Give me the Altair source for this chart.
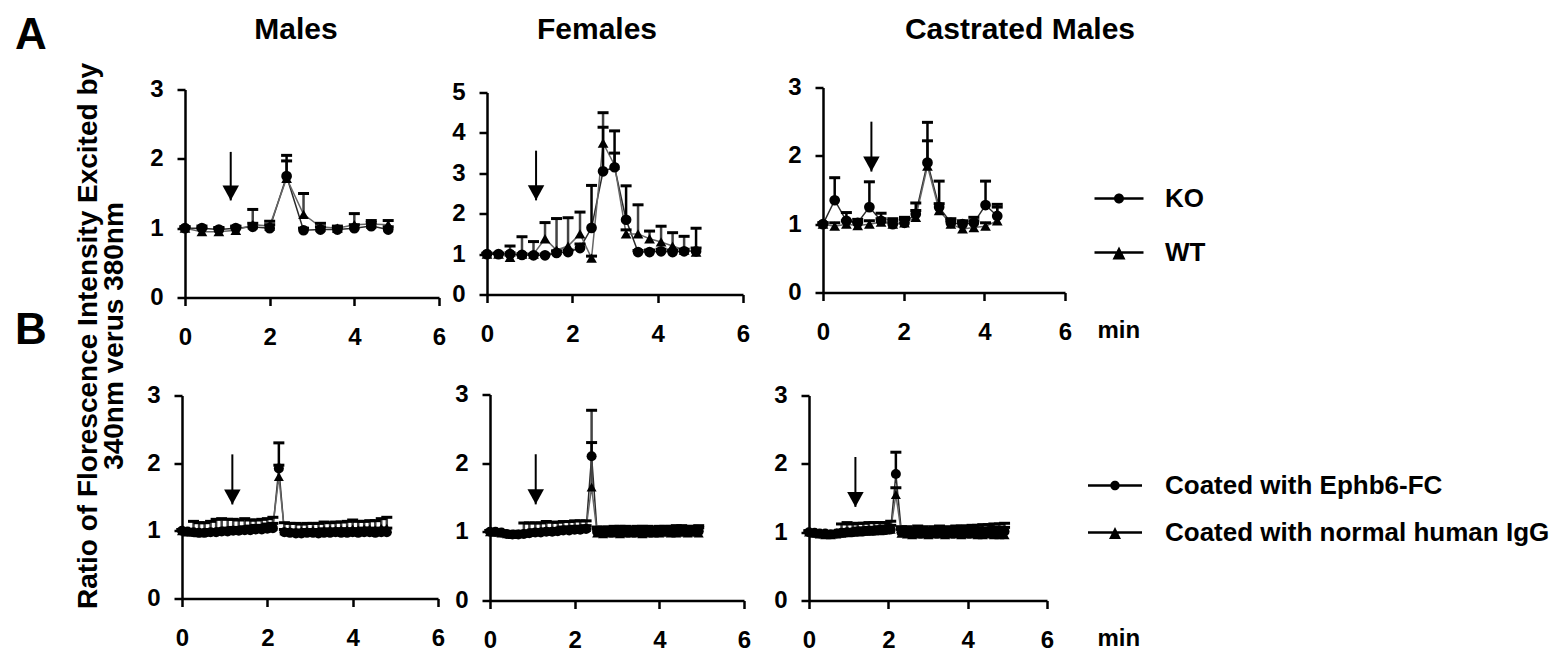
import altair as alt
import pandas as pd

FONT = "Liberation Sans"

# ---------------- Row A: KO vs WT ----------------
males_time = [0.0, 0.4, 0.8, 1.2, 1.6, 2.0, 2.4, 2.8, 3.2, 3.6, 4.0, 4.4, 4.8]
males_ko = [1.00, 1.00, 0.98, 1.00, 1.02, 1.00, 1.75, 0.97, 0.98, 0.98, 1.00, 1.03, 0.98]
males_ko_sem = [0.02, 0.03, 0.03, 0.03, 0.05, 0.05, 0.30, 0.03, 0.04, 0.03, 0.05, 0.05, 0.04]
males_wt = [1.00, 0.95, 0.95, 0.97, 1.05, 1.03, 1.72, 1.20, 1.02, 1.00, 1.05, 1.06, 1.05]
males_wt_sem = [0.02, 0.05, 0.05, 0.05, 0.22, 0.07, 0.25, 0.30, 0.05, 0.03, 0.16, 0.05, 0.06]

females_time = [0.0, 0.27, 0.54, 0.82, 1.09, 1.36, 1.63, 1.9, 2.18, 2.45,
                2.72, 2.99, 3.26, 3.54, 3.81, 4.08, 4.35, 4.62, 4.9]
females_ko = [1.00, 1.00, 1.00, 0.98, 0.97, 0.97, 1.03, 1.05, 1.15, 1.65,
              3.05, 3.15, 1.85, 1.05, 1.05, 1.07, 1.05, 1.07, 1.07]
females_ko_sem = [0.02, 0.02, 0.03, 0.03, 0.03, 0.03, 0.05, 0.05, 0.10, 1.05,
                  1.09, 0.90, 0.84, 0.04, 0.05, 0.05, 0.05, 0.05, 0.57]
females_wt = [1.00, 1.00, 0.92, 1.00, 1.00, 1.38, 1.10, 1.20, 1.50, 0.90,
              3.75, 3.20, 1.50, 1.50, 1.38, 1.30, 1.20, 1.10, 1.05]
females_wt_sem = [0.02, 0.02, 0.28, 0.43, 0.31, 0.40, 0.78, 0.70, 0.54, 0.05,
                  0.75, 0.30, 0.10, 0.72, 0.19, 0.39, 0.33, 0.34, 0.10]

castrated_time = [0.0, 0.29, 0.58, 0.86, 1.15, 1.44, 1.73, 2.02, 2.3, 2.59,
                  2.88, 3.17, 3.46, 3.74, 4.03, 4.32]
castrated_ko = [1.00, 1.35, 1.05, 1.02, 1.25, 1.05, 1.00, 1.02, 1.15, 1.90,
                1.25, 1.02, 1.00, 1.02, 1.28, 1.12]
castrated_ko_sem = [0.02, 0.33, 0.12, 0.05, 0.37, 0.11, 0.08, 0.08, 0.16, 0.59,
                    0.38, 0.06, 0.05, 0.08, 0.35, 0.17]
castrated_wt = [1.00, 0.97, 1.00, 0.98, 1.00, 1.03, 1.00, 1.02, 1.10, 1.85,
                1.20, 1.00, 0.93, 0.95, 0.97, 1.05]
castrated_wt_sem = [0.02, 0.05, 0.05, 0.05, 0.05, 0.05, 0.05, 0.05, 0.10, 0.37,
                    0.10, 0.05, 0.10, 0.10, 0.05, 0.20]

# ---------------- Row B: Ephb6-FC vs human IgG coating ----------------
b_males_time = [0.0, 0.13, 0.27, 0.4, 0.53, 0.67, 0.8, 0.93, 1.07, 1.2, 1.33, 1.47,
                1.6, 1.73, 1.87, 2.0, 2.13, 2.27, 2.4, 2.53, 2.67, 2.8, 2.93, 3.07,
                3.2, 3.33, 3.47, 3.6, 3.73, 3.87, 4.0, 4.13, 4.27, 4.4, 4.53, 4.67, 4.8]
b_males_eph = [1.00, 0.99, 0.98, 0.97, 0.97, 0.98, 0.98, 0.99, 0.99, 1.00, 1.00, 1.01,
               1.01, 1.02, 1.02, 1.03, 1.04, 1.92, 0.98, 0.97, 0.96, 0.96, 0.97, 0.97,
               0.96, 0.97, 0.97, 0.98, 0.97, 0.97, 0.98, 0.97, 0.98, 0.98, 0.97, 0.98, 0.98]
b_males_eph_sem = [0.02, 0.02, 0.03, 0.03, 0.03, 0.04, 0.04, 0.04, 0.05, 0.05, 0.05, 0.05,
                   0.06, 0.06, 0.06, 0.07, 0.07, 0.38, 0.04, 0.04, 0.05, 0.05, 0.05, 0.05,
                   0.05, 0.06, 0.05, 0.05, 0.06, 0.06, 0.05, 0.06, 0.06, 0.06, 0.06, 0.06, 0.06]
b_males_igg = [1.00, 0.98, 0.98, 0.97, 0.98, 0.99, 1.00, 1.00, 1.01, 1.02, 1.02, 1.03,
               1.03, 1.04, 1.05, 1.05, 1.07, 1.80, 1.00, 1.00, 0.99, 1.00, 1.00, 1.01,
               1.00, 1.01, 1.02, 1.01, 1.02, 1.02, 1.03, 1.02, 1.03, 1.03, 1.02, 1.04, 1.04]
b_males_igg_sem = [0.02, 0.03, 0.16, 0.15, 0.14, 0.15, 0.17, 0.18, 0.16, 0.15, 0.14, 0.15,
                   0.13, 0.12, 0.12, 0.13, 0.13, 0.17, 0.12, 0.11, 0.12, 0.10, 0.11, 0.10,
                   0.11, 0.12, 0.10, 0.12, 0.11, 0.12, 0.13, 0.12, 0.11, 0.12, 0.13, 0.14, 0.16]

b_females_time = [0.0, 0.13, 0.27, 0.4, 0.53, 0.67, 0.8, 0.93, 1.07, 1.2, 1.33, 1.47,
                  1.6, 1.73, 1.87, 2.0, 2.13, 2.27, 2.4, 2.53, 2.67, 2.8, 2.93, 3.07,
                  3.2, 3.33, 3.47, 3.6, 3.73, 3.87, 4.0, 4.13, 4.27, 4.4, 4.53, 4.67,
                  4.8, 4.93]
b_females_eph = [1.00, 1.00, 0.99, 0.97, 0.96, 0.96, 0.97, 0.98, 0.99, 0.99, 1.00, 1.00,
                 1.01, 1.02, 1.02, 1.03, 1.03, 1.04, 2.10, 1.00, 1.00, 1.01, 1.00, 1.00,
                 1.01, 1.00, 1.01, 1.00, 1.01, 1.01, 1.00, 1.01, 1.01, 1.00, 1.01, 1.01,
                 1.02, 1.01]
b_females_eph_sem = [0.02, 0.02, 0.02, 0.03, 0.03, 0.03, 0.03, 0.03, 0.04, 0.04, 0.04, 0.04,
                     0.04, 0.05, 0.05, 0.05, 0.05, 0.05, 0.20, 0.04, 0.04, 0.04, 0.05, 0.05,
                     0.04, 0.05, 0.05, 0.04, 0.05, 0.05, 0.05, 0.05, 0.05, 0.05, 0.05, 0.05,
                     0.05, 0.05]
b_females_igg = [1.00, 0.99, 0.98, 0.97, 0.96, 0.97, 0.98, 0.99, 1.00, 1.01, 1.02, 1.02,
                 1.03, 1.03, 1.04, 1.04, 1.05, 1.06, 1.65, 0.98, 0.97, 0.98, 0.98, 0.97,
                 0.98, 0.98, 0.98, 0.97, 0.98, 0.98, 0.98, 0.99, 0.98, 0.98, 0.99, 0.98,
                 0.99, 0.98]
b_females_igg_sem = [0.02, 0.02, 0.03, 0.03, 0.03, 0.04, 0.15, 0.14, 0.13, 0.12, 0.13, 0.12,
                     0.11, 0.12, 0.11, 0.12, 0.11, 0.10, 1.12, 0.09, 0.10, 0.09, 0.10, 0.11,
                     0.10, 0.09, 0.10, 0.11, 0.10, 0.09, 0.10, 0.09, 0.10, 0.11, 0.10, 0.10,
                     0.09, 0.11]

b_castrated_time = [0.0, 0.14, 0.27, 0.41, 0.55, 0.69, 0.82, 0.96, 1.1, 1.23, 1.37, 1.51,
                    1.64, 1.78, 1.92, 2.06, 2.19, 2.33, 2.47, 2.6, 2.74, 2.88, 3.01, 3.15,
                    3.29, 3.43, 3.56, 3.7, 3.84, 3.97, 4.11, 4.25, 4.38, 4.52, 4.66, 4.8, 4.93]
b_castrated_eph = [1.00, 0.99, 0.98, 0.98, 0.97, 0.98, 0.99, 1.00, 1.00, 1.01, 1.01, 1.02,
                   1.02, 1.03, 1.03, 1.04, 1.85, 1.00, 0.99, 0.99, 1.00, 0.99, 0.99, 1.00,
                   1.00, 0.99, 1.00, 1.00, 1.01, 1.00, 1.01, 1.01, 1.00, 1.01, 1.01, 1.00, 1.01]
b_castrated_eph_sem = [0.02, 0.02, 0.03, 0.03, 0.03, 0.03, 0.04, 0.04, 0.04, 0.05, 0.05, 0.05,
                       0.05, 0.05, 0.06, 0.06, 0.32, 0.04, 0.04, 0.05, 0.05, 0.05, 0.05, 0.05,
                       0.05, 0.05, 0.05, 0.05, 0.05, 0.06, 0.05, 0.05, 0.06, 0.05, 0.06, 0.06, 0.06]
b_castrated_igg = [1.00, 0.98, 0.97, 0.96, 0.96, 0.97, 0.98, 0.99, 1.00, 1.00, 1.01, 1.01,
                   1.02, 1.02, 1.03, 1.04, 1.55, 0.98, 0.97, 0.96, 0.97, 0.97, 0.96, 0.97,
                   0.97, 0.96, 0.97, 0.97, 0.96, 0.97, 0.97, 0.96, 0.96, 0.97, 0.96, 0.96, 0.96]
b_castrated_igg_sem = [0.02, 0.02, 0.03, 0.03, 0.03, 0.04, 0.14, 0.15, 0.12, 0.13, 0.12, 0.13,
                       0.12, 0.12, 0.11, 0.12, 0.10, 0.10, 0.11, 0.10, 0.12, 0.11, 0.10, 0.11,
                       0.12, 0.10, 0.11, 0.12, 0.13, 0.12, 0.13, 0.14, 0.15, 0.14, 0.16, 0.16, 0.17]

# stimulus arrows (A1, A2, A3, B1, B2, B3): time, shaft top, arrow tip
arrow_time = [1.08, 1.15, 1.20, 1.18, 1.08, 1.17]
arrow_top = [2.10, 3.56, 2.50, 2.13, 2.13, 2.10]
arrow_tip = [1.40, 2.33, 1.77, 1.39, 1.40, 1.37]

row_a_groups = ["KO", "WT"]
row_b_groups = ["Coated with Ephb6-FC", "Coated with normal human IgG"]
column_titles = ["Males", "Females", "Castrated Males"]
panel_letters = ["A", "B"]
y_title = ["Ratio of Florescence Intensity Excited by", "340nm verus 380nm"]

# symbol paths: arrow head with its tip at the origin, legend line+marker glyphs
HEAD = "M-0.55,-1L0.55,-1L0,0Z"
LEG_CIRCLE_A = "M-0.98,-0.05H0.98V0.05H-0.98ZM0.2,0A0.2,0.2,0,1,1,-0.2,0A0.2,0.2,0,1,1,0.2,0Z"
LEG_TRI_A = "M-0.98,-0.05H0.98V0.05H-0.98ZM0,-0.24L0.26,0.28L-0.26,0.28Z"
LEG_CIRCLE_B = "M-1.08,-0.05H1.08V0.05H-1.08ZM0.19,0A0.19,0.19,0,1,1,-0.19,0A0.19,0.19,0,1,1,0.19,0Z"
LEG_TRI_B = "M-1.08,-0.05H1.08V0.05H-1.08ZM0,-0.22L0.24,0.26L-0.24,0.26Z"


def long_frame(time, a, a_sem, b, b_sem, names):
    n = len(time)
    return pd.DataFrame({
        "time": list(time) * 2,
        "ratio": list(a) + list(b),
        "sem": list(a_sem) + list(b_sem),
        "group": [names[0]] * n + [names[1]] * n,
    })


def text_layer(text, x, y, size, align):
    return alt.Chart(pd.DataFrame({"label": [text]})).mark_text(
        font=FONT, fontSize=size, fontWeight="bold", color="black",
        align=align, baseline="top",
    ).encode(text="label:N", x=alt.value(x), y=alt.value(y))


def legend_layer(names, paths, lx, ly, row_pad, label_offset):
    return alt.Chart(pd.DataFrame({"entry": names})).transform_filter("false").mark_point(
        filled=True, color="black", opacity=1
    ).encode(
        shape=alt.Shape(
            "entry:N",
            scale=alt.Scale(domain=names, range=paths),
            legend=alt.Legend(
                title=None, orient="none", legendX=lx, legendY=ly,
                symbolSize=2500, symbolStrokeWidth=0, symbolFillColor="black",
                symbolOpacity=1, rowPadding=row_pad, labelOffset=label_offset,
                labelFont=FONT, labelFontSize=26, labelFontWeight="bold",
                labelColor="black", labelLimit=800, padding=0,
            ),
        )
    )


def panel(df, names, k, ymax, xrange, yrange, width, height, msize,
          y_axis_title=None, x_axis_title=None, extra=()):
    y_axis_kw = dict(values=list(range(ymax + 1)), offset=-xrange[0])
    if y_axis_title:
        y_axis_kw.update(title=y_axis_title, titleX=-89, titleY=248, titleAngle=270,
                         titleAlign="center", titleBaseline="alphabetic",
                         titleFontSize=28, titleFontWeight="bold", titleLineHeight=26)
    else:
        y_axis_kw.update(title=None)
    x_axis_kw = dict(values=[0, 2, 4, 6])
    if x_axis_title:
        x_axis_kw.update(title=x_axis_title, titleX=305, titleY=45, titleAlign="left",
                         titleBaseline="alphabetic", titleFontSize=24,
                         titleFontWeight="bold")
    else:
        x_axis_kw.update(title=None)

    xs = alt.Scale(domain=[0, 6], range=xrange, nice=False, zero=False)
    ys = alt.Scale(domain=[0, ymax], range=yrange, nice=False)

    def X(field="time"):
        return alt.X(f"{field}:Q", scale=xs, axis=alt.Axis(**x_axis_kw))

    def Y(field):
        return alt.Y(f"{field}:Q", scale=ys, axis=alt.Axis(**y_axis_kw))

    base = alt.Chart(df).transform_calculate(upper="datum.ratio + datum.sem")
    first = base.transform_filter(alt.datum.group == names[0])
    second = base.transform_filter(alt.datum.group == names[1])

    layers = [
        first.mark_line(color="#2b2b2b", strokeWidth=1.5).encode(x=X(), y=Y("ratio")),
        second.mark_line(color="#666666", strokeWidth=1.5).encode(x=X(), y=Y("ratio")),
        second.mark_rule(color="#444444", strokeWidth=2.5).encode(x=X(), y=Y("ratio"), y2="upper:Q"),
        second.mark_tick(orient="horizontal", size=11, thickness=3, color="black",
                         opacity=1).encode(x=X(), y=Y("upper")),
        first.mark_rule(color="black", strokeWidth=2.5).encode(x=X(), y=Y("ratio"), y2="upper:Q"),
        first.mark_tick(orient="horizontal", size=11, thickness=3, color="black",
                        opacity=1).encode(x=X(), y=Y("upper")),
        second.mark_point(shape="triangle-up", filled=True, size=msize, color="black",
                          opacity=1).encode(x=X(), y=Y("ratio")),
        first.mark_point(shape="circle", filled=True, size=msize, color="black",
                         opacity=1).encode(x=X(), y=Y("ratio")),
    ]

    arrow_df = pd.DataFrame({"time": [arrow_time[k]], "top": [arrow_top[k]], "tip": [arrow_tip[k]]})
    arrow = alt.Chart(arrow_df)
    layers.append(arrow.mark_rule(color="black", strokeWidth=2).encode(
        x=X(), y=Y("top"), y2="tip:Q"))
    layers.append(arrow.mark_point(shape=HEAD, filled=True, size=900, color="black",
                                   opacity=1).encode(x=X(), y=Y("tip")))
    layers.extend(extra)
    return alt.layer(*layers).properties(width=width, height=height)


a1 = panel(long_frame(males_time, males_ko, males_ko_sem, males_wt, males_wt_sem, row_a_groups),
           row_a_groups, 0, 3, [3, 257], [210, 2], 257, 210, 115,
           y_axis_title=y_title,
           extra=[text_layer(panel_letters[0], -167, -73.5, 44, "left"),
                  text_layer(column_titles[0], 114, -72.5, 30, "center")])
a2 = panel(long_frame(females_time, females_ko, females_ko_sem, females_wt, females_wt_sem, row_a_groups),
           row_a_groups, 1, 5, [0, 256], [207, 5], 257, 207, 115,
           extra=[text_layer(column_titles[1], 110, -72.5, 30, "center")])
a3 = panel(long_frame(castrated_time, castrated_ko, castrated_ko_sem, castrated_wt, castrated_wt_sem, row_a_groups),
           row_a_groups, 2, 3, [31, 273], [205, 0], 273, 205, 115,
           x_axis_title="min",
           extra=[text_layer(column_titles[2], 228, -72.5, 30, "center"),
                  legend_layer(row_a_groups, [LEG_CIRCLE_A, LEG_TRI_A], 302, 86, 16, 21)])

b1 = panel(long_frame(b_males_time, b_males_eph, b_males_eph_sem, b_males_igg, b_males_igg_sem, row_b_groups),
           row_b_groups, 3, 3, [0, 256], [204, 1], 257, 204, 100,
           extra=[text_layer(panel_letters[1], -167, -86, 44, "left")])
b2 = panel(long_frame(b_females_time, b_females_eph, b_females_eph_sem, b_females_igg, b_females_igg_sem, row_b_groups),
           row_b_groups, 4, 3, [3, 257], [206, 0], 257, 206, 100)
b3 = panel(long_frame(b_castrated_time, b_castrated_eph, b_castrated_eph_sem, b_castrated_igg, b_castrated_igg_sem, row_b_groups),
           row_b_groups, 5, 3, [17, 255], [206, 1], 273, 206, 100,
           x_axis_title="min",
           extra=[legend_layer(row_b_groups, [LEG_CIRCLE_B, LEG_TRI_B], 298, 66, 9, 25)])

chart = alt.concat(
    a1, a2, a3, b1, b2, b3,
    columns=3, spacing={"row": 97, "column": 48}, bounds="flush", align="each",
).resolve_scale(shape="independent").properties(
    padding={"left": 15, "top": 13.5, "right": 5, "bottom": 5},
    background="white",
).configure_view(stroke=None).configure_axis(
    domainColor="black", domainWidth=2.5, tickColor="black", tickWidth=2.5, tickSize=8,
    labelFont=FONT, labelFontSize=24, labelFontWeight="bold", labelColor="black",
    labelFlush=False, labelOverlap=False, grid=False, titleFont=FONT, titleColor="black",
).configure_axisX(labelPadding=20).configure_axisY(labelPadding=14)

chart.save("out.html", embed_options={"renderer": "svg", "actions": False})
